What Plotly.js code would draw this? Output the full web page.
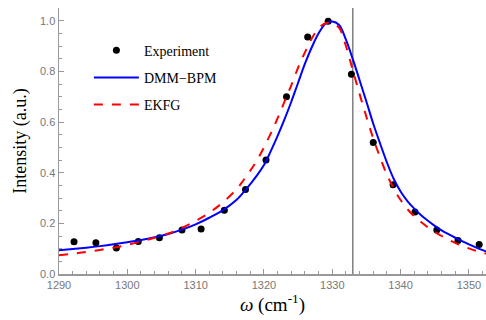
<!DOCTYPE html>
<html>
<head>
<meta charset="utf-8">
<script src="https://cdn.plot.ly/plotly-3.0.1.min.js"></script>
<style>html,body{margin:0;padding:0;background:#fff;}#chart{width:486px;height:320px;}</style>
</head>
<body>
<div id="chart"></div>
<script>
// Experiment data points
const expOmega = [1292.2, 1295.4, 1298.4, 1301.6, 1304.7, 1308.0, 1310.8, 1314.2, 1317.3, 1320.3, 1323.3, 1326.4, 1329.4, 1332.8, 1336.0, 1338.9, 1342.1, 1345.3, 1348.4, 1351.5];
const expIntensity = [0.127, 0.123, 0.103, 0.128, 0.143, 0.174, 0.178, 0.252, 0.334, 0.450, 0.700, 0.936, 0.998, 0.788, 0.519, 0.352, 0.245, 0.174, 0.132, 0.116];

// Model curves
const curveOmega = [1290, 1292, 1294, 1296, 1298, 1300, 1302, 1304, 1306, 1308, 1310, 1312, 1314, 1316, 1317, 1318, 1319, 1320, 1321, 1322, 1323, 1324, 1325, 1326, 1327, 1328, 1329, 1330, 1331, 1332, 1333, 1334, 1335, 1336, 1337, 1338, 1339, 1340, 1341, 1342, 1343, 1344, 1345, 1346, 1347, 1348, 1349, 1350, 1351, 1352, 1352.5];
const dmmBpm = [0.094, 0.099, 0.104, 0.110, 0.117, 0.125, 0.134, 0.145, 0.158, 0.175, 0.196, 0.222, 0.252, 0.293, 0.322, 0.355, 0.39, 0.43, 0.485, 0.545, 0.61, 0.68, 0.755, 0.83, 0.895, 0.95, 0.988, 0.997, 0.983, 0.925, 0.848, 0.765, 0.68, 0.593, 0.515, 0.44, 0.375, 0.326, 0.288, 0.258, 0.232, 0.21, 0.19, 0.172, 0.157, 0.143, 0.13, 0.117, 0.105, 0.094, 0.089];
const ekfg = [0.074, 0.080, 0.087, 0.095, 0.104, 0.115, 0.128, 0.143, 0.160, 0.182, 0.210, 0.242, 0.283, 0.335, 0.37, 0.408, 0.45, 0.50, 0.555, 0.615, 0.68, 0.745, 0.815, 0.875, 0.93, 0.97, 0.99, 0.99, 0.972, 0.90, 0.805, 0.71, 0.62, 0.535, 0.46, 0.392, 0.337, 0.292, 0.256, 0.228, 0.205, 0.184, 0.166, 0.15, 0.136, 0.123, 0.111, 0.101, 0.092, 0.084, 0.081];

const xTicks = [1290, 1300, 1310, 1320, 1330, 1340, 1350];
const yTicks = [0.0, 0.2, 0.4, 0.6, 0.8, 1.0];
const markerOmega = 1333;

const serif = '"Liberation Serif", "Times New Roman", serif';
const tickFont = {family: '"Liberation Sans", Arial, sans-serif', size: 11, color: '#777'};
const axisCol = '#999';

const traces = [
  {x: expOmega, y: expIntensity, mode: 'markers', name: 'Experiment', legendgroup: 'a',
   marker: {color: '#000', size: 7}},
  {x: curveOmega, y: dmmBpm, mode: 'lines', name: 'DMM\u2212BPM', legendgroup: 'b',
   line: {color: '#0000ff', width: 2, shape: 'spline'}},
  {x: curveOmega, y: ekfg, mode: 'lines', name: 'EKFG', legendgroup: 'c',
   line: {color: '#ff0000', width: 2, dash: 'dash', shape: 'spline'}}
];

const layout = {
  width: 486, height: 320,
  margin: {l: 59, r: 0, t: 8, b: 46},
  paper_bgcolor: '#fff', plot_bgcolor: '#fff',
  font: {family: serif},
  showlegend: true,
  legend: {x: 0.07, y: 0.9, xanchor: 'left', yanchor: 'top', bgcolor: 'rgba(0,0,0,0)',
           itemwidth: 45,
           font: {family: serif, size: 14, color: '#000'}, traceorder: 'grouped', tracegroupgap: 6},
  xaxis: {
    range: [1290, 1352.5], tickvals: xTicks, ticktext: xTicks.map(String),
    showgrid: false, zeroline: false, showline: true, linecolor: axisCol, linewidth: 1.5,
    ticks: 'inside', ticklen: 5, tickcolor: axisCol, tickwidth: 1, tickfont: tickFont,
    minor: {dtick: 2, tick0: 1290, ticks: 'inside', ticklen: 3, tickcolor: axisCol, showgrid: false},
    title: {text: '<i>\u03c9</i> (cm<sup>-1</sup>)', font: {family: serif, size: 19, color: '#000'}, standoff: 6}
  },
  yaxis: {
    range: [0, 1.05], tickvals: yTicks, ticktext: yTicks.map(v => v.toFixed(1)),
    showgrid: false, zeroline: false, showline: true, linecolor: axisCol, linewidth: 1.5,
    ticks: 'inside', ticklen: 5, tickcolor: axisCol, tickwidth: 1, tickfont: tickFont,
    minor: {dtick: 0.05, tick0: 0, ticks: 'inside', ticklen: 3, tickcolor: axisCol, showgrid: false},
    title: {text: 'Intensity (a.u.)', font: {family: serif, size: 18, color: '#000'}, standoff: 8}
  },
  shapes: [{type: 'line', xref: 'x', yref: 'paper', x0: markerOmega, x1: markerOmega, y0: 0, y1: 1,
            line: {color: '#808080', width: 1.5}, layer: 'below'}]
};

Plotly.newPlot('chart', traces, layout, {staticPlot: true, displayModeBar: false});
</script>
</body>
</html>
